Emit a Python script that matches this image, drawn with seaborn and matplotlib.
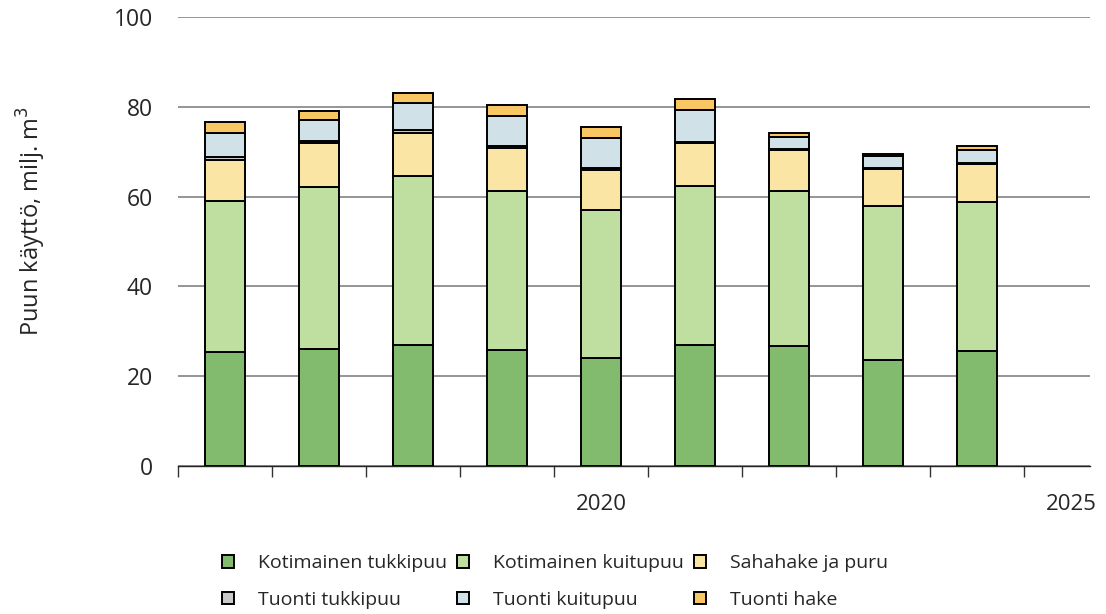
import matplotlib
matplotlib.use("Agg")
import matplotlib.pyplot as plt
import seaborn as sns
import numpy as np

years = [2016, 2017, 2018, 2019, 2020, 2021, 2022, 2023, 2024]
kotimainen_tukkipuu = [25.3, 26.1, 27.0, 25.8, 24.1, 26.9, 26.7, 23.7, 25.6]
kotimainen_kuitupuu = [33.7, 36.0, 37.7, 35.5, 33.0, 35.4, 34.6, 34.2, 33.3]
sahahake_ja_puru = [9.1, 9.8, 9.4, 9.5, 8.8, 9.7, 9.0, 8.2, 8.5]
tuonti_tukkipuu = [0.8, 0.6, 0.7, 0.5, 0.5, 0.3, 0.4, 0.4, 0.1]
tuonti_kuitupuu = [5.4, 4.5, 6.0, 6.7, 6.7, 7.0, 2.5, 2.5, 3.0]
tuonti_hake = [2.3, 2.2, 2.4, 2.5, 2.5, 2.5, 1.0, 0.6, 0.9]

series_names = ["Kotimainen tukkipuu", "Kotimainen kuitupuu", "Sahahake ja puru",
                "Tuonti tukkipuu", "Tuonti kuitupuu", "Tuonti hake"]
series_values = [kotimainen_tukkipuu, kotimainen_kuitupuu, sahahake_ja_puru,
                 tuonti_tukkipuu, tuonti_kuitupuu, tuonti_hake]
colors = ["#82BA6E", "#BEDF9F", "#FBE5A5", "#C9C9C9", "#D0E2E8", "#F8C663"]

y_ticks = [0, 20, 40, 60, 80, 100]
x_labels = [2020, 2025]
y_label = "Puun käyttö, milj. m$^3$"

sns.set_theme(style="white")
plt.rcParams["font.family"] = ["Open Sans", "DejaVu Sans"]

fig = plt.figure(figsize=(11.06, 6.14), dpi=100)
ax = fig.add_axes([0.161, 0.241, 0.8245, 0.731])

bottom = np.zeros(len(years))
handles = []
for name, vals, col in zip(series_names, series_values, colors):
    sns.barplot(x=years, y=vals, bottom=bottom.copy(), native_scale=True,
                color=col, width=0.42, edgecolor="black", linewidth=1.4,
                saturation=1, ax=ax, zorder=3, errorbar=None)
    handles.append(plt.Rectangle((0, 0), 1, 1, facecolor=col, edgecolor="black", linewidth=1.4))
    bottom += np.array(vals)

ax.set_ylim(0, 100)
ax.set_xlim(2015.5, 2025.2)
ax.set_yticks(y_ticks)
ax.set_yticklabels([str(t) for t in y_ticks], fontsize=16.5)
ax.yaxis.grid(True, color="#8C8C8C", linewidth=1.3, zorder=0)
ax.set_axisbelow(True)
ax.tick_params(axis="y", length=0, pad=18)

ax.set_xticks(x_labels)
ax.set_xticklabels([str(v) for v in x_labels], fontsize=16)
ax.set_xticks(np.arange(2015.5, 2025.0, 1.0), minor=True)
ax.tick_params(axis="x", which="major", length=0, pad=20)
ax.tick_params(axis="x", which="minor", length=8, width=1, color="#333333", direction="out", bottom=True)

for s in ["top", "right", "left"]:
    ax.spines[s].set_visible(False)
ax.spines["bottom"].set_color("#222222")
ax.spines["bottom"].set_linewidth(1.0)

ax.set_xlabel("")
ax.set_ylabel(y_label, fontsize=17)
ax.yaxis.set_label_coords(-0.143, 0.546)

order = [0, 3, 1, 4, 2, 5]
leg = fig.legend([handles[i] for i in order], [series_names[i] for i in order],
                 ncol=3, loc="lower left", bbox_to_anchor=(0.185, -0.02), frameon=False,
                 fontsize=14, handlelength=0.62, handleheight=0.62, columnspacing=0.5,
                 labelspacing=0.95, handletextpad=1.24)

fig.savefig("out.png", dpi=100)
